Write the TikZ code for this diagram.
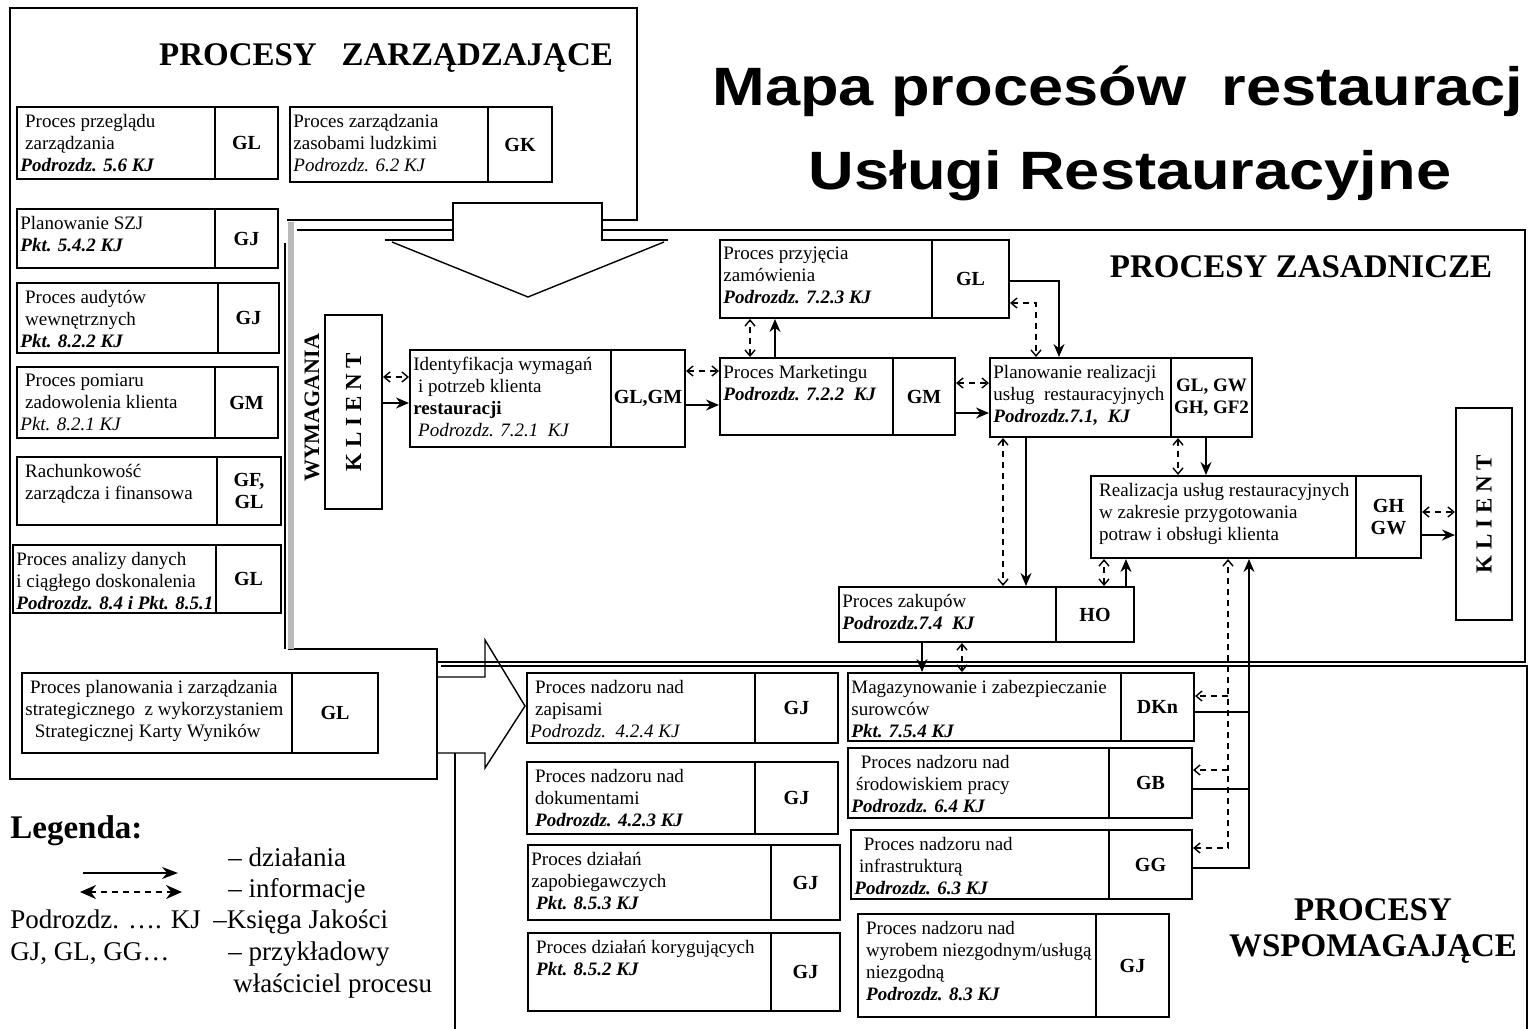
\documentclass[tikz,border=0pt]{standalone}
\usepackage{fontspec}
\usepackage{graphicx}
\setmainfont{Liberation Serif}
\newfontfamily\titlefont{Liberation Sans}
\usetikzlibrary{arrows.meta,calc}
\newcommand\bfit[1]{\textbf{\textit{#1}}}
\tikzset{
 frame/.style={line width=1pt},
 boxline/.style={line width=1pt},
 act/.style={line width=0.8pt, -{Stealth[length=6.5pt,width=5.5pt]}},
 info/.style={line width=0.7pt, dash pattern=on 3pt off 2.5pt, {Straight Barb[length=3pt,width=5pt]}-{Straight Barb[length=3pt,width=5pt]}},
 infoend/.style={line width=0.7pt, dash pattern=on 3pt off 2.5pt, -{Straight Barb[length=3pt,width=5pt]}},
 btxt/.style={anchor=north west, align=left, inner sep=0pt, font=\fontsize{9.5}{11}\selectfont},
 own/.style={align=center, inner sep=0pt, font=\fontsize{10}{11}\selectfont\bfseries},
 head/.style={font=\fontsize{16.5}{20}\selectfont\bfseries, anchor=base, inner sep=0pt},
 lg/.style={font=\fontsize{13.5}{16}\selectfont, anchor=base west, inner sep=0pt},
}
\newcommand\pbox[8]{%
 \node[draw, boxline, inner sep=0pt, minimum width={(#4-#2)*0.5pt}, minimum height={(#5-#3)*0.5pt}] (#1) at ({(#2+#4)/2},{(#3+#5)/2}) {};
 \draw[boxline] (#6,#3) -- (#6,#5);
 \node[btxt] (#1-t) at ({#2+3},{#3+7}) {#7};
 \node[own] (#1-o) at ({(#6+#4)/2},{(#3+#5)/2}) {#8};
}
\begin{document}
\begin{tikzpicture}[x=0.5pt,y=-0.5pt]
\useasboundingbox (0,0) rectangle (1528,1029);
\fill[white] (0,0) rectangle (1528,1029);
% ---------- frames ----------
\draw[frame] (602,220) -- (637,220) -- (637,8) -- (10,8) -- (10,779) -- (437,779) -- (437,649) -- (288,649);
\draw[frame] (453,220) -- (287,220);
\draw[line width=0.6pt] (285,243) -- (285,649);
\draw[line width=3pt, gray!55] (291,222) -- (291,649);
\draw[frame] (297,230) -- (453,230);
\draw[frame] (602,230) -- (1525,230) -- (1525,662) -- (437,662);
\draw[line width=0.6pt] (441,666) -- (1527,666) -- (1527,1029);
\draw[line width=0.6pt] (455,753) -- (455,1029);
% down arrow
\draw[frame] (385,240) -- (453,240) -- (453,203) -- (602,203) -- (602,240) -- (668,240);
\draw[line width=0.7pt] (392,242) -- (528,297) -- (664,242);
% right arrow
\draw[line width=0.7pt] (437,677) -- (485,677) -- (485,640) -- (525,706) -- (485,768) -- (485,753) -- (437,753);
% ---------- titles ----------
\node[anchor=base west, inner sep=0pt, font=\titlefont\fontsize{27}{30}\selectfont\bfseries] (title1) at (712,105) {\scalebox{1.17}[1]{Mapa procesów\ \ restauracj}};
\node[anchor=base, inner sep=0pt, font=\titlefont\fontsize{27}{30}\selectfont\bfseries] (title2) at (1130,189) {\scalebox{1.17}[1]{Usługi Restauracyjne}};
\node[head] (hz) at (386,65) {PROCESY\ \ \ ZARZĄDZAJĄCE};
\node[head] (hzs) at (1301,277) {PROCESY ZASADNICZE};
\node[head] (hw1) at (1373,920) {PROCESY};
\node[head] (hw2) at (1373,956) {WSPOMAGAJĄCE};
\node[rotate=90, font=\fontsize{11}{13}\selectfont\bfseries, inner sep=0pt] (wym) at (312,408) {WYMAGANIA};
% ---------- management ----------
\pbox{m1}{17}{107}{278}{179}{215}{\ Proces przeglądu\\ \ zarządzania\\ \bfit{Podrozdz. 5.6 KJ}}{GL}
\pbox{m2}{290}{107}{552}{182}{488}{Proces zarządzania\\ zasobami ludzkimi\\ \textit{Podrozdz. 6.2 KJ}}{GK}
\pbox{m3}{17}{209}{278}{268}{215}{Planowanie SZJ\\ \bfit{Pkt. 5.4.2 KJ}}{GJ}
\pbox{m4}{17}{283}{279}{353}{218}{\ Proces audytów\\ \ wewnętrznych\\ \bfit{Pkt. 8.2.2 KJ}}{GJ}
\pbox{m5}{17}{367}{278}{438}{215}{\ Proces pomiaru\\ \ zadowolenia klienta\\ \textit{Pkt. 8.2.1 KJ}}{GM}
\pbox{m6}{17}{457}{281}{525}{217}{\ Rachunkowość\\ \ zarządcza i finansowa}{GF,\\ GL}
\pbox{m7}{13}{545}{281}{613}{216}{Proces analizy danych\\ i ciągłego doskonalenia\\ \bfit{Podrozdz. 8.4 i Pkt. 8.5.1}}{GL}
\pbox{m8}{22}{673}{378}{753}{292}{\ Proces planowania i zarządzania\\ strategicznego\ \ z wykorzystaniem\\ \ \ Strategicznej Karty Wyników}{GL}
% ---------- core ----------
\node[draw, boxline, inner sep=0pt, minimum width=28.5pt, minimum height=97pt] (kl1) at (353.5,412) {};
\node[rotate=90, font=\fontsize{11.5}{13}\selectfont\bfseries, inner sep=0pt] (kl1-t) at (353.5,412) {K L I E N T};
\node[draw, boxline, inner sep=0pt, minimum width=28pt, minimum height=106pt] (kl2) at (1484,514) {};
\node[rotate=90, font=\fontsize{11.5}{13}\selectfont\bfseries, inner sep=0pt] (kl2-t) at (1484,514) {K L I E N T};
\pbox{idf}{410}{350}{685}{447}{611}{Identyfikacja wymagań\\ \ i potrzeb klienta\\ \textbf{restauracji}\\ \ \textit{Podrozdz. 7.2.1\ \ KJ}}{GL,GM}
\pbox{prz}{720}{240}{1009}{318}{932}{Proces przyjęcia\\ zamówienia\\ \bfit{Podrozdz. 7.2.3 KJ}}{GL}
\pbox{mkt}{720}{358}{955}{435}{893}{Proces Marketingu\\ \bfit{Podrozdz. 7.2.2\ \ KJ}}{GM}
\pbox{pln}{990}{358}{1252}{437}{1171}{Planowanie realizacji\\ usług\ \ restauracyjnych\\ \bfit{Podrozdz.7.1,\ \ KJ}}{\fontsize{9.5}{11}\selectfont GL, GW\\ \fontsize{9.5}{11}\selectfont GH, GF2}
\pbox{rea}{1091}{476}{1421}{558}{1356}{\ Realizacja usług restauracyjnych\\ \ w zakresie przygotowania\\ \ potraw i obsługi klienta}{GH\\ GW}
\pbox{zak}{839}{587}{1134}{642}{1056}{Proces zakupów\\ \bfit{Podrozdz.7.4\ \ KJ}}{HO}
% ---------- support ----------
\pbox{s1}{527}{673}{838}{743}{755}{\ Proces nadzoru nad\\ \ zapisami\\ \textit{Podrozdz.\ \ 4.2.4 KJ}}{GJ}
\pbox{s2}{527}{762}{838}{834}{755}{\ Proces nadzoru nad\\ \ dokumentami\\ \ \bfit{Podrozdz. 4.2.3 KJ}}{GJ}
\pbox{s3}{528}{845}{840}{920}{771}{Proces działań\\ zapobiegawczych\\ \ \bfit{Pkt. 8.5.3 KJ}}{GJ}
\pbox{s4}{528}{933}{840}{1011}{771}{\ Proces działań korygujących\\ \ \bfit{Pkt. 8.5.2 KJ}}{GJ}
\pbox{mag}{848}{673}{1194}{741}{1121}{Magazynowanie i zabezpieczanie\\ surowców\\ \bfit{Pkt. 7.5.4 KJ}}{DKn}
\pbox{env}{848}{748}{1192}{818}{1109}{\ \ Proces nadzoru nad\\ \ środowiskiem pracy\\ \bfit{Podrozdz. 6.4 KJ}}{GB}
\pbox{inf}{851}{830}{1192}{899}{1109}{\ \ Proces nadzoru nad\\ \ infrastrukturą\\ \bfit{Podrozdz. 6.3 KJ}}{GG}
\pbox{nzg}{858}{914}{1169}{1017}{1096}{\ Proces nadzoru nad\\ \ wyrobem niezgodnym/usługą\\ \ niezgodną\\ \ \bfit{Podrozdz. 8.3 KJ}}{GJ}
% ---------- connectors ----------
\draw[info] (kl1.east |- 0,377) -- (idf.west |- 0,377);
\draw[act] (kl1.east |- 0,403) -- (idf.west |- 0,403);
\draw[info] (idf.east |- 0,371) -- (mkt.west |- 0,371);
\draw[act] (idf.east |- 0,405) -- (mkt.west |- 0,405);
\draw[info] (mkt.north -| 750,0) -- (prz.south -| 750,0);
\draw[act] (mkt.north -| 775,0) -- (prz.south -| 775,0);
\draw[act] (prz.east |- 0,281) -| (pln.north -| 1059,0);
\draw[info] (prz.east |- 0,303) -| (pln.north -| 1036,0);
\draw[info] (mkt.east |- 0,383) -- (pln.west |- 0,383);
\draw[act] (mkt.east |- 0,413) -- (pln.west |- 0,413);
\draw[info] (pln.south -| 1178,0) -- (rea.north -| 1178,0);
\draw[act] (pln.south -| 1206,0) -- (rea.north -| 1206,0);
\draw[info] (pln.south -| 1003,0) -- (zak.north -| 1003,0);
\draw[act] (pln.south -| 1026,0) -- (zak.north -| 1026,0);
\draw[info] (zak.north -| 1104,0) -- (rea.south -| 1104,0);
\draw[act] (zak.north -| 1126,0) -- (rea.south -| 1126,0);
\draw[info] (rea.east |- 0,512) -- (kl2.west |- 0,512);
\draw[act] (rea.east |- 0,535) -- (kl2.west |- 0,535);
\draw[act] (zak.south -| 922,0) -- (mag.north -| 922,0);
\draw[info] (zak.south -| 962,0) -- (mag.north -| 962,0);
\coordinate (j1) at (1249,712);
\coordinate (j2) at (1249,789);
\coordinate (dj1) at (1228,696);
\coordinate (dj2) at (1228,770);
\draw[act] (inf.east |- 0,868) -| (rea.south -| 1249,0);
\draw[line width=0.8pt] (mag.east |- j1) -- (j1);
\draw[line width=0.8pt] (env.east |- j2) -- (j2);
\draw[info] (inf.east |- 0,848) -| (rea.south -| 1228,0);
\draw[infoend] (dj1) -- (mag.east |- dj1);
\draw[infoend] (dj2) -- (env.east |- dj2);
% ---------- legend ----------
\node[anchor=base west, inner sep=0pt, font=\fontsize{16.5}{20}\selectfont\bfseries] (leg) at (10,838) {Legenda:};
\coordinate (la1) at (83,873); \coordinate (la2) at (178,873);
\coordinate (lb1) at (80,892); \coordinate (lb2) at (182,892);
\draw[line width=0.8pt, -{Stealth[length=8pt,width=6pt]}] (la1) -- (la2);
\draw[line width=0.9pt, dash pattern=on 3pt off 2.5pt, {Stealth[length=8pt,width=7pt]}-{Stealth[length=8pt,width=7pt]}] (lb1) -- (lb2);
\node[lg] (l1) at (228,866) {– działania};
\node[lg] (l2) at (228,897) {– informacje};
\node[lg] (l3) at (10,928) {Podrozdz. …. KJ};
\node[lg] (l3b) at (213,928) {–Księga Jakości};
\node[lg] (l4) at (10,960) {GJ, GL, GG…};
\node[lg] (l4b) at (228,960) {– przykładowy};
\node[lg] (l5) at (233,992) {właściciel procesu};
\end{tikzpicture}
\end{document}
